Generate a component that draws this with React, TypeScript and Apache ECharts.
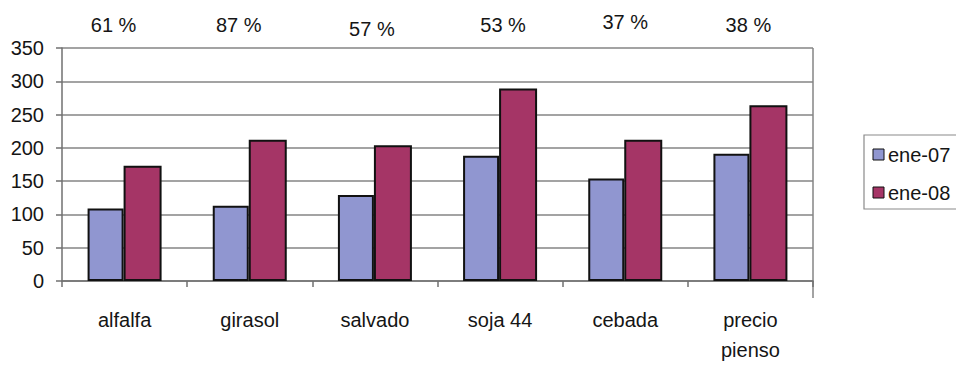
import React, { useEffect, useRef } from "react";
import * as echarts from "echarts";

const categories = ["alfalfa", "girasol", "salvado", "soja 44", "cebada", "precio\npienso"];
const ene07 = [109, 113, 129, 188, 154, 191];
const ene08 = [173, 212, 204, 289, 212, 264];
const pctLabels = ["61 %", "87 %", "57 %", "53 %", "37 %", "38 %"];
const pctShiftY = [0, 0, -4, 0, 3, 0];
const pctShiftX = [-22, -22, -6, 6, 0, -4];
const yTicks = { min: 0, max: 350, interval: 50 };

export default function App() {
  const ref = useRef<HTMLDivElement>(null);
  useEffect(() => {
    if (!ref.current) return;
    const chart = echarts.init(ref.current, null, { renderer: "svg" });
    const font = "'Liberation Sans', Arial, sans-serif";
    const txt = "#151515";
    chart.setOption({
      animation: false,
      backgroundColor: "#ffffff",
      textStyle: { fontFamily: font },
      grid: { left: 62, right: 143, top: 48, bottom: 67, containLabel: false },
      legend: { show: false },
      xAxis: [
        {
          type: "category",
          data: categories,
          axisLine: { lineStyle: { color: "#707070", width: 1.5 } },
          axisTick: { show: true, length: 6, lineStyle: { color: "#707070", width: 1.5 } },
          axisLabel: { color: txt, fontSize: 20, fontFamily: font, margin: 24, lineHeight: 30 },
        },
        {
          type: "category",
          position: "top",
          data: pctLabels.map((p, i) => ({
            value: p,
            textStyle: {
              padding: [0, pctShiftX[i] < 0 ? -pctShiftX[i] : 0, pctShiftY[i], pctShiftX[i] > 0 ? pctShiftX[i] : 0],
            },
          })),
          axisLine: { show: false },
          axisTick: { show: false },
          axisLabel: { color: txt, fontSize: 20, fontFamily: font, margin: 13 },
        },
      ],
      yAxis: {
        type: "value",
        min: yTicks.min,
        max: yTicks.max,
        interval: yTicks.interval,
        axisLine: { show: true, lineStyle: { color: "#707070", width: 1.5 } },
        axisTick: { show: true, inside: false, length: 6, lineStyle: { color: "#707070", width: 1.5 } },
        axisLabel: { color: txt, fontSize: 20, fontFamily: font, margin: 18 },
        splitLine: { show: true, lineStyle: { color: "#858585", width: 1.5 } },
      },
      graphic: [
        {
          type: "line",
          shape: { x1: 813, y1: 48, x2: 813, y2: 298 },
          style: { stroke: "#858585", lineWidth: 1.5 },
        },
        {
          type: "rect",
          shape: { x: 864, y: 135, width: 100, height: 74 },
          style: { fill: "#fff", stroke: "#8a8a8a", lineWidth: 1.2 },
        },
        {
          type: "rect",
          shape: { x: 873, y: 149, width: 11, height: 11 },
          style: { fill: "#9096d0", stroke: "#111", lineWidth: 1 },
        },
        {
          type: "text",
          x: 888, y: 155,
          style: { text: "ene-07", fill: txt, font: `20px ${font}`, verticalAlign: "middle", align: "left" },
        },
        {
          type: "rect",
          shape: { x: 873, y: 187, width: 11, height: 11 },
          style: { fill: "#a53566", stroke: "#111", lineWidth: 1 },
        },
        {
          type: "text",
          x: 888, y: 193,
          style: { text: "ene-08", fill: txt, font: `20px ${font}`, verticalAlign: "middle", align: "left" },
        },
      ],
      series: [
        {
          name: "ene-07",
          type: "bar",
          data: ene07,
          barWidth: 36,
          barGap: "0%",
          itemStyle: { color: "#9096d0", borderColor: "#111", borderWidth: 2 },
        },
        {
          name: "ene-08",
          type: "bar",
          data: ene08,
          barWidth: 38,
          barGap: "0%",
          itemStyle: { color: "#a53566", borderColor: "#111", borderWidth: 2 },
        },
      ],
    });
    return () => chart.dispose();
  }, []);
  return <div ref={ref} style={{ width: 956, height: 365, position: "absolute", left: 0, top: 0 }} />;
}
